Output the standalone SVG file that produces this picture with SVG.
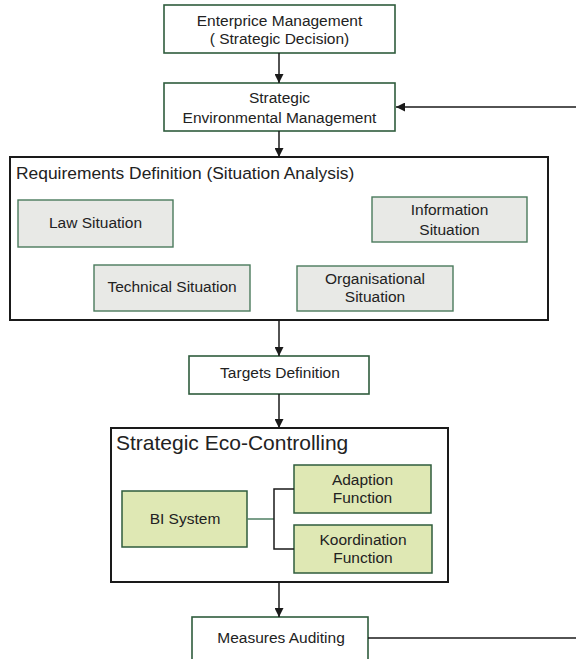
<svg xmlns="http://www.w3.org/2000/svg" width="576" height="659" viewBox="0 0 576 659">
  <style>
    text { font-family: "Liberation Sans", Arial, sans-serif; fill: #222; text-anchor: middle; }
    .t { font-size: 15.5px; }
    .title { font-size: 17.4px; text-anchor: start; }
    .big { font-size: 21px; text-anchor: start; }
    .step { fill: #fff; stroke: #2f5c3d; stroke-width: 1.6; }
    .frame { fill: #fff; stroke: #1a1a1a; stroke-width: 2; }
    .sit { fill: #e8e9e6; stroke: #4a7a5c; stroke-width: 1.4; }
    .eco { fill: #dfe8b4; stroke: #2f5c3d; stroke-width: 1.5; }
    .wire { fill: none; stroke: #1a1a1a; stroke-width: 1.5; }
  </style>
  <defs>
    <marker id="arrow" viewBox="0 0 10 10" refX="10" refY="5" markerWidth="9" markerHeight="9" markerUnits="userSpaceOnUse" orient="auto">
      <path d="M0,0 L10,5 L0,10 z" fill="#1a1a1a"/>
    </marker>
  </defs>

  <g id="enterprise">
    <rect class="step" x="164" y="5" width="231" height="48"/>
    <text class="t" x="279.5" y="26">Enterprice Management</text>
    <text class="t" x="279.5" y="44">( Strategic Decision)</text>
  </g>

  <g id="environmental">
    <rect class="step" x="164" y="83" width="231" height="48"/>
    <text class="t" x="279.5" y="103">Strategic</text>
    <text class="t" x="279.5" y="123">Environmental Management</text>
  </g>

  <g id="requirements">
    <rect class="frame" x="10" y="157" width="538" height="163"/>
    <text class="title" x="16" y="179">Requirements Definition (Situation Analysis)</text>
  </g>

  <g id="law">
    <rect class="sit" x="18" y="200" width="155" height="47"/>
    <text class="t" x="95.5" y="228">Law Situation</text>
  </g>

  <g id="information">
    <rect class="sit" x="372" y="197" width="155" height="45"/>
    <text class="t" x="449.5" y="215">Information</text>
    <text class="t" x="449.5" y="235">Situation</text>
  </g>

  <g id="technical">
    <rect class="sit" x="94" y="265" width="156" height="46"/>
    <text class="t" x="172" y="292">Technical Situation</text>
  </g>

  <g id="organisational">
    <rect class="sit" x="297" y="266" width="156" height="45"/>
    <text class="t" x="375" y="284">Organisational</text>
    <text class="t" x="375" y="302">Situation</text>
  </g>

  <g id="targets">
    <rect class="step" x="189" y="356" width="180" height="38"/>
    <text class="t" x="280" y="378">Targets Definition</text>
  </g>

  <g id="eco-controlling">
    <rect class="frame" x="111" y="428" width="337" height="154"/>
    <text class="big" x="116" y="450">Strategic Eco-Controlling</text>
  </g>

  <g id="bi-system">
    <rect class="eco" x="122" y="491" width="125" height="56"/>
    <text class="t" x="185" y="524">BI System</text>
  </g>

  <g id="adaption">
    <rect class="eco" x="294" y="465" width="137" height="48"/>
    <text class="t" x="362.5" y="485">Adaption</text>
    <text class="t" x="362.5" y="503">Function</text>
  </g>

  <g id="koordination">
    <rect class="eco" x="294" y="525" width="138" height="48"/>
    <text class="t" x="363" y="545">Koordination</text>
    <text class="t" x="363" y="563">Function</text>
  </g>

  <g id="measures">
    <rect class="step" x="192" y="617" width="176" height="46"/>
    <text class="t" x="281" y="643">Measures Auditing</text>
  </g>

  <g id="connectors">
    <line class="wire" x1="279" y1="53" x2="279" y2="83" marker-end="url(#arrow)"/>
    <line class="wire" x1="576" y1="107" x2="396" y2="107" marker-end="url(#arrow)"/>
    <line class="wire" x1="279" y1="131" x2="279" y2="157" marker-end="url(#arrow)"/>
    <line class="wire" x1="279" y1="320" x2="279" y2="356" marker-end="url(#arrow)"/>
    <line class="wire" x1="279" y1="394" x2="279" y2="428" marker-end="url(#arrow)"/>
    <line class="wire" x1="279" y1="582" x2="279" y2="617" marker-end="url(#arrow)"/>
    <line class="wire" x1="368" y1="638" x2="576" y2="638"/>
    <line x1="247" y1="519" x2="274" y2="519" stroke="#4f7f63" stroke-width="1.5"/>
    <polyline class="wire" points="294,489 274,489 274,549 294,549"/>
  </g>
</svg>
